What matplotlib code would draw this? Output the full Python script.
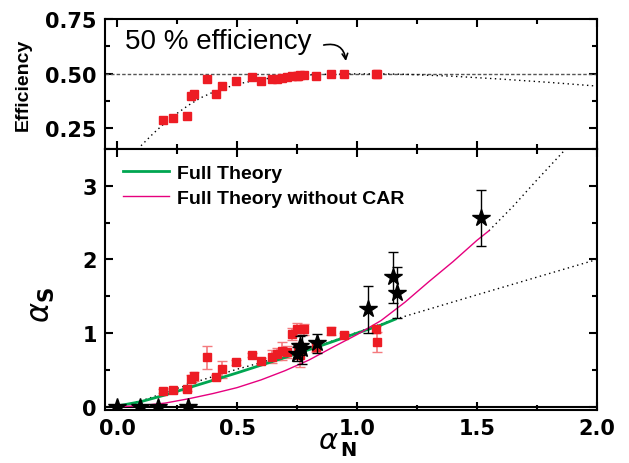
import matplotlib
matplotlib.use("Agg")
import matplotlib.pyplot as plt
from matplotlib.ticker import MultipleLocator

plt.rcParams['font.family'] = ['Liberation Sans', 'DejaVu Sans']
plt.rcParams['mathtext.fontset'] = 'dejavusans'

# measured points (red squares), same alpha_N in both panels
alpha_n = [0.193, 0.232, 0.29, 0.307, 0.321, 0.376, 0.4125, 0.436, 0.496, 0.561,
           0.601, 0.645, 0.666, 0.686, 0.707, 0.728, 0.749, 0.755, 0.763, 0.779,
           0.829, 0.89, 0.947, 1.079, 1.085]
efficiency = [0.286, 0.299, 0.306, 0.397, 0.409, 0.477, 0.409, 0.442, 0.465, 0.483,
              0.468, 0.476, 0.477, 0.480, 0.485, 0.491, 0.488, 0.490, 0.495, 0.495,
              0.491, 0.499, 0.499, 0.499, 0.499]
alpha_s = [0.217, 0.231, 0.24, 0.376, 0.412, 0.67, 0.403, 0.507, 0.602, 0.70,
           0.625, 0.68, 0.715, 0.76, 0.74, 0.986, 1.054, 0.76, 0.70, 1.05,
           0.805, 1.03, 0.977, 1.05, 0.88]
alpha_s_err = [0.03, 0.03, 0.03, 0.05, 0.06, 0.16, 0.03, 0.11, 0.03, 0.03,
               0.04, 0.09, 0.08, 0.12, 0.08, 0.08, 0.08, 0.10, 0.16, 0.07,
               0.06, 0.06, 0.03, 0.05, 0.13]

# star points
star_n = [0.0, 0.096, 0.171, 0.297, 0.749, 0.762, 0.77, 0.835, 1.047, 1.149, 1.168, 1.515]
star_s = [0.0, 0.0, 0.0, 0.0, 0.715, 0.83, 0.78, 0.86, 1.326, 1.756, 1.55, 2.56]
star_err = [0.02, 0.02, 0.02, 0.02, 0.1, 0.13, 0.2, 0.13, 0.32, 0.35, 0.35, 0.38]

# efficiency theory (dotted)
eff_x = [0.10, 0.15, 0.2, 0.25, 0.3, 0.35, 0.4, 0.5, 0.6, 0.7, 0.8, 0.9, 1.0, 1.1,
         1.2, 1.4, 1.6, 1.8, 2.0]
eff_y = [0.17, 0.225, 0.275, 0.318, 0.357, 0.39, 0.415, 0.452, 0.474, 0.487, 0.494,
         0.498, 0.499, 0.499, 0.497, 0.488, 0.475, 0.46, 0.443]

# full theory
full_x = [0.0, 0.1, 0.2, 0.35, 0.5, 0.6, 0.7, 0.85, 1.0, 1.1, 1.16]
full_y = [0.01, 0.07, 0.16, 0.31, 0.46, 0.565, 0.67, 0.83, 1.0, 1.11, 1.19]
full_dot_x = [0.0, 0.1, 0.2, 0.35, 0.5, 0.6, 0.7, 0.85, 1.0, 1.16, 1.5, 2.0]
full_dot_y = [0.01, 0.08, 0.19, 0.36, 0.51, 0.6, 0.7, 0.84, 1.01, 1.19, 1.52, 2.0]

# full theory without CAR
nocar_x = [0.0, 0.1, 0.2, 0.3, 0.4, 0.5, 0.6, 0.7, 0.8, 0.9, 1.0, 1.1, 1.2, 1.3,
           1.4, 1.5, 1.55]
nocar_y = [0.0, 0.015, 0.05, 0.11, 0.18, 0.26, 0.365, 0.49, 0.635, 0.81, 0.98, 1.17,
           1.42, 1.7, 1.97, 2.26, 2.39]
nocar_dot_x = [1.55, 1.65, 1.75, 1.87]
nocar_dot_y = [2.39, 2.72, 3.08, 3.5]

red = '#ed1c24'
green = '#00a651'
pink = '#e6007e'
dots = (0, (1, 2.5))

fig = plt.figure(figsize=(6.29, 4.64), dpi=100)
ax1 = fig.add_axes([0.167, 0.6767, 0.782, 0.2802])
ax2 = fig.add_axes([0.167, 0.1148, 0.782, 0.5619])

for ax in (ax1, ax2):
    ax.set_xlim(-0.05, 2.0)
    ax.xaxis.set_major_locator(MultipleLocator(0.5))
    ax.xaxis.set_minor_locator(MultipleLocator(0.25))
    ax.tick_params(which='both', direction='in', top=True, right=True, width=1.5)
    ax.tick_params(which='major', length=6, labelsize=15, pad=6)
    ax.tick_params(which='minor', length=3.5)
    for s in ax.spines.values():
        s.set_linewidth(1.5)

tick_font = dict(family='DejaVu Sans', weight='bold', size=15)

# top panel
ax1.axhline(0.5, color='#555555', lw=1, ls=(0, (2.5, 1.5)))
ax1.plot(eff_x, eff_y, color='black', lw=1, ls=dots)
ax1.plot(alpha_n, efficiency, 's', color=red, ms=6, mec=red)
ax1.set_ylim(0.155, 0.75)
ax1.yaxis.set_minor_locator(MultipleLocator(0.125))
ax1.set_yticks([0.25, 0.5, 0.75])
ax1.set_yticklabels(['0.25', '0.50', '0.75'], fontdict=tick_font)
ax1.tick_params(labelbottom=False)
ax1.set_ylabel('Efficiency', fontsize=14, fontweight='bold')
ax1.yaxis.set_label_coords(-0.148, 0.5)
ax1.text(0.035, 0.618, '50 % efficiency', fontsize=20)
ax1.annotate('', xy=(0.955, 0.545), xytext=(0.85, 0.628),
             arrowprops=dict(arrowstyle='->', color='black', lw=1.2,
                             connectionstyle='arc3,rad=-0.6'))

# bottom panel
ax2.axhline(0, color='black', lw=1.5)
ax2.plot(full_dot_x, full_dot_y, color='black', lw=1, ls=dots)
ax2.plot(nocar_dot_x, nocar_dot_y, color='black', lw=1, ls=dots)
ax2.errorbar(alpha_n, alpha_s, yerr=alpha_s_err, fmt='s', color=red, ms=6,
             ecolor='#f47a7e', elinewidth=1.2, capsize=3.5)
ax2.plot(full_x, full_y, color=green, lw=2, label='Full Theory')
ax2.plot(nocar_x, nocar_y, color=pink, lw=1, label='Full Theory without CAR')
ax2.errorbar(star_n, star_s, yerr=star_err, fmt='*', color='black', ms=13,
             ecolor='black', elinewidth=1, capsize=3.5, zorder=5)
ax2.set_ylim(-0.04, 3.5)
ax2.yaxis.set_minor_locator(MultipleLocator(0.5))
ax2.set_xticks([0.0, 0.5, 1.0, 1.5, 2.0])
ax2.set_xticklabels(['0.0', '0.5', '1.0', '1.5', '2.0'], fontdict=tick_font)
ax2.set_yticks([0, 1, 2, 3])
ax2.set_yticklabels(['0', '1', '2', '3'], fontdict=tick_font)

# axis labels: alpha with bold subscript, placed like the original
ax2.text(0.432, -0.064, r'$\alpha$', transform=ax2.transAxes, fontsize=21,
         ha='left', va='top')
ax2.text(0.478, -0.115, 'N', transform=ax2.transAxes, fontsize=14,
         fontweight='bold', family='DejaVu Sans', ha='left', va='top')
ax2.set_ylabel(r'$\alpha_{\mathbf{S}}$', fontsize=22)
ax2.yaxis.set_label_coords(-0.098, 0.405)

leg = ax2.legend(loc='upper left', frameon=False, fontsize=14, handlelength=2.4,
                 handletextpad=0.4, labelspacing=0.4, bbox_to_anchor=(0.0, 1.01))
for t in leg.get_texts():
    t.set_fontweight('bold')

fig.savefig('out.png', dpi=100)
